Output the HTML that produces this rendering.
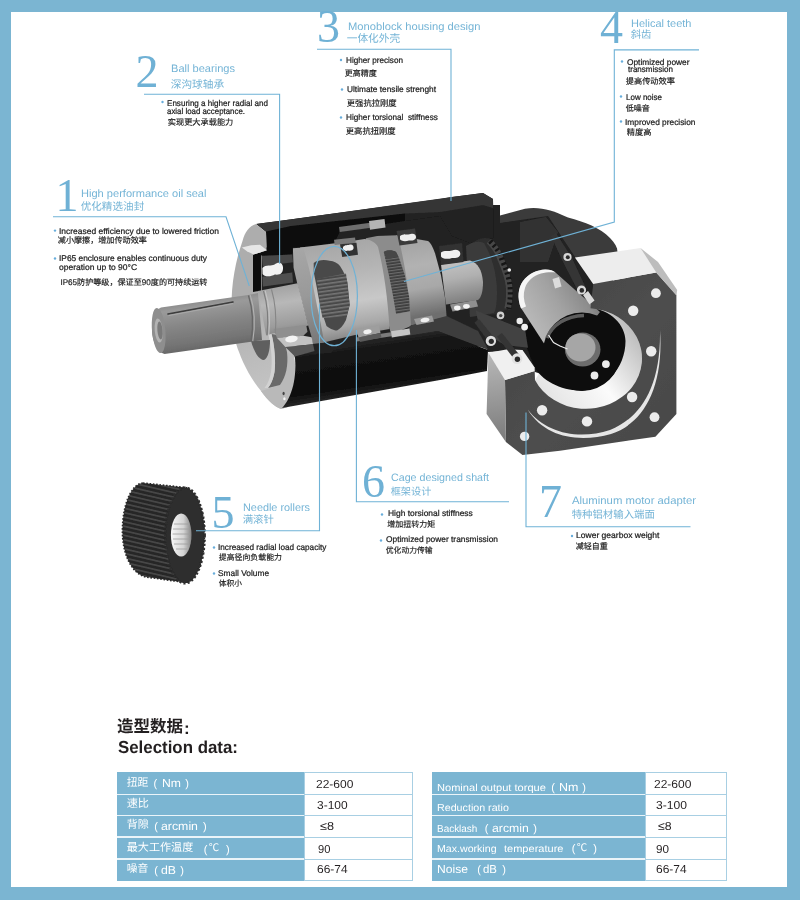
<!DOCTYPE html>
<html lang="zh"><head><meta charset="utf-8"><title>Selection data</title>
<style>
html,body{margin:0;padding:0}
body{width:800px;height:900px;position:relative;overflow:hidden;background:#7bb5d2;font-family:"Liberation Sans",sans-serif}
.page{position:absolute;left:11px;top:12px;width:776px;height:875px;background:#fff}
.ov{position:absolute;left:0;top:0}
.t{position:absolute;white-space:pre;transform-origin:0 0;display:block;text-rendering:geometricPrecision}
.c{position:absolute;white-space:pre;line-height:1;font-family:"Liberation Sans","Noto Sans CJK SC",sans-serif;text-rendering:geometricPrecision}
.ch{color:#74b4d6}
.cb{color:#1c1c1c;-webkit-text-stroke:.18px #1c1c1c}
.cw{color:#fff}
.tb{position:absolute}
</style></head><body>
<div class="page"></div>
<svg class="ov" width="800" height="900" viewBox="0 0 800 900">
<defs>
<linearGradient id="gShaft" gradientUnits="userSpaceOnUse" x1="205" y1="300" x2="212" y2="349">
 <stop offset="0" stop-color="#8c8c8c"/><stop offset=".12" stop-color="#9a9a9a"/><stop offset=".45" stop-color="#868686"/><stop offset=".8" stop-color="#757575"/><stop offset="1" stop-color="#666"/>
</linearGradient>
<linearGradient id="gSeat" gradientUnits="userSpaceOnUse" x1="278" y1="286" x2="286" y2="342">
 <stop offset="0" stop-color="#a2a2a2"/><stop offset=".3" stop-color="#b8b8b8"/><stop offset=".7" stop-color="#9c9c9c"/><stop offset="1" stop-color="#747474"/>
</linearGradient>
<linearGradient id="gFace" gradientUnits="userSpaceOnUse" x1="236" y1="300" x2="275" y2="400">
 <stop offset="0" stop-color="#adadad"/><stop offset=".5" stop-color="#bababa"/><stop offset="1" stop-color="#c6c6c6"/>
</linearGradient>
<linearGradient id="gCar" gradientUnits="userSpaceOnUse" x1="340" y1="240" x2="355" y2="340">
 <stop offset="0" stop-color="#a6a6a6"/><stop offset=".3" stop-color="#b4b4b4"/><stop offset=".62" stop-color="#c8c8c8"/><stop offset=".85" stop-color="#a8a8a8"/><stop offset="1" stop-color="#828282"/>
</linearGradient>
<linearGradient id="gCarF" gradientUnits="userSpaceOnUse" x1="298" y1="250" x2="318" y2="342">
 <stop offset="0" stop-color="#a6a6a6"/><stop offset=".5" stop-color="#999"/><stop offset="1" stop-color="#787878"/>
</linearGradient>
<linearGradient id="gCar2" gradientUnits="userSpaceOnUse" x1="415" y1="238" x2="428" y2="315">
 <stop offset="0" stop-color="#a2a2a2"/><stop offset=".35" stop-color="#b2b2b2"/><stop offset=".65" stop-color="#a8a8a8"/><stop offset="1" stop-color="#6e6e6e"/>
</linearGradient>
<linearGradient id="gPin" gradientUnits="userSpaceOnUse" x1="455" y1="260" x2="463" y2="305">
 <stop offset="0" stop-color="#c4c4c4"/><stop offset=".4" stop-color="#b0b0b0"/><stop offset="1" stop-color="#7a7a7a"/>
</linearGradient>
<linearGradient id="gBlk" gradientUnits="userSpaceOnUse" x1="360" y1="340" x2="368" y2="395">
 <stop offset="0" stop-color="#2c2c2c"/><stop offset=".18" stop-color="#151515"/><stop offset=".8" stop-color="#0c0c0c"/><stop offset="1" stop-color="#262626"/>
</linearGradient>
<linearGradient id="gHollow" gradientUnits="userSpaceOnUse" x1="530" y1="322" x2="588" y2="286">
 <stop offset="0" stop-color="#b8b8b8"/><stop offset=".5" stop-color="#a2a2a2"/><stop offset=".85" stop-color="#8c8c8c"/><stop offset="1" stop-color="#767676"/>
</linearGradient>
<linearGradient id="gBore" gradientUnits="userSpaceOnUse" x1="545" y1="395" x2="640" y2="325">
 <stop offset="0" stop-color="#e4e4e4"/><stop offset=".45" stop-color="#fbfbfb"/><stop offset="1" stop-color="#b4b4b4"/>
</linearGradient>
<linearGradient id="gSide" gradientUnits="userSpaceOnUse" x1="490" y1="360" x2="500" y2="440">
 <stop offset="0" stop-color="#b4b4b4"/><stop offset="1" stop-color="#7c7c7c"/>
</linearGradient>
<linearGradient id="gPlate" gradientUnits="userSpaceOnUse" x1="520" y1="300" x2="670" y2="440">
 <stop offset="0" stop-color="#454545"/><stop offset=".5" stop-color="#4e4e4e"/><stop offset="1" stop-color="#484848"/>
</linearGradient>
<pattern id="teeth" width="4" height="3.7" patternUnits="userSpaceOnUse" patternTransform="rotate(-8)">
 <rect width="4" height="3.7" fill="#4a4a4a"/><rect y="0" width="4" height="1.5" fill="#767676"/>
</pattern>
<pattern id="teeth2" width="4" height="2.9" patternUnits="userSpaceOnUse" patternTransform="rotate(-8)">
 <rect width="4" height="2.9" fill="#3c3c3c"/><rect y="0" width="4" height="1.2" fill="#6c6c6c"/>
</pattern>
<pattern id="ridge" width="10" height="4.4" patternUnits="userSpaceOnUse" patternTransform="rotate(13)">
 <rect width="10" height="4.4" fill="#262626"/><rect y="0" width="10" height="1.7" fill="#474747"/>
</pattern>
<linearGradient id="gHole" gradientUnits="userSpaceOnUse" x1="172" y1="0" x2="191" y2="0">
 <stop offset="0" stop-color="#f4f4f4"/><stop offset=".6" stop-color="#d4d4d4"/><stop offset="1" stop-color="#8a8a8a"/>
</linearGradient>
<filter id="soft" x="-5%" y="-5%" width="110%" height="110%"><feGaussianBlur stdDeviation="0.45"/></filter>
<clipPath id="cBore"><ellipse cx="586" cy="352" rx="55" ry="56"/></clipPath>
</defs>
<g filter="url(#soft)">

<!-- ===== right-angle housing (back) ===== -->
<path d="M492.6 217.5 L525 208.7 C540 206.5 552 210 568 217.6 C585 222 600 228 610 238 C615 243 617.5 247.5 617.5 252 L610 300 L560 345 L500 345 L470 300 L470 230Z" fill="#3b3b3b"/>
<!-- interior -->
<path d="M493 224 L548 216 L575 257 L593 284 L597 297 L600 330 L560 380 L535 372 L522 350 L488 352 L478 331 L470 300Z" fill="#202020"/>
<path d="M520 222 L546 217 L558 232 L548 262 L520 262Z" fill="#333"/>

<!-- ===== interior cavity dark ===== -->
<path d="M262 250 L300 228 L440 205 L500 205 L500 345 L300 360 L262 300Z" fill="#242424"/>

<!-- ===== housing top band + block ===== -->
<path d="M256 224 L290 219.5 L440 199 L452 197 L483 193 L493 199 L493.5 238 L470 243 L452 236 L440 216 L405 221 L340 231 L335 242.5 L305 248 L293.5 247.5 L292 254.5 L261.5 255.5 L261.5 291 L253 292 L253 254.5 L266.5 250.5 L266 232 Z" fill="#0d0d0d"/>
<path d="M405 210 L452 203 L493 199 L493.5 238 L470 243 L452 236 L440 216 L405 221Z" fill="#242424"/>
<path d="M256.5 224 L290 219.5 L452 197 L483 193 L493 199 L493 208 L483 205 L440 212 L405 213.5 L291 226 L266 231.5Z" fill="#363636"/>

<!-- ===== stage 2 ===== -->
<g id="stage2">
 <!-- bevel gear -->
 <path d="M470.7 243.7 C478 238 486 237 490 238.5 C496 244 500 250 502.2 257.7 C507 268 510 276 511 284 C512 295 511 303 509.2 308.5 L497 314 L470 316Z" fill="#2d2d2d"/>
 <path d="M466 246 C474 241 480 241 484 243 C492 256 497 275 497 292 C497 302 496 309 494 313 L470 317Z" fill="#3b3b3b"/>
 <path d="M489 241 C495 247 499 253 501 260 C505.5 270 508 278 509 286 C509.8 296 509 303 507.5 309" fill="none" stroke="#464646" stroke-width="6.5"/>
 <path d="M490 241 C496 247 500 253 502 260 C506.5 270 509 278 510 286 C510.8 296 510 303 508.5 309" fill="none" stroke="#151515" stroke-width="5" stroke-dasharray="2.2 2.9"/>
 <circle cx="509.3" cy="270" r="1.8" fill="#e8e8e8"/>
 <!-- pinion shaft -->
 <path d="M441 264.5 L470 260.5 C478 263 482 270 483 282 C483 292 481 298 478 300 L446 304.5Z" fill="url(#gPin)"/>
 <!-- bearing on pinion -->
 <path d="M439 246 L462 243 L463.5 262 L441 265Z" fill="#303030"/>
 <path d="M441 252.5 C444 250 449 251.5 452 250.5 C456 249 460 250 460.3 253.5 C460.5 257 457 258.5 452 258 C448 259.5 442 259 441 256.5Z" fill="#f0f0f0"/>
 <!-- carrier 2 body -->
 <path d="M396 235.5 L427.9 241.1 C431 243 433 248 435.1 253.4 L440.9 275 L445.3 299.6 L446.7 318.4 L410.6 325.6 L391 334.3Z" fill="url(#gCar2)"/>
 <!-- carrier 2 left face -->
 <path d="M365.8 238.2 L377.3 236 L397.6 235.3 C402 250 410 290 411 326 L391 334.3 L388.9 325.6 L381.7 299.6 L374.5 275 L368.7 253.4Z" fill="#8c8c8c"/>
 <path d="M383.8 251.9 C386 250 392 249.5 396.1 251.9 L399 257.7 L404.8 275 L409.1 296.7 L409.9 311.2 L396.1 314 L393.2 296.7 L388.9 275 L385.3 259.1Z" fill="url(#teeth2)"/>
 <path d="M383.8 251.9 C386 250 392 249.5 396.1 251.9 L398.3 256.5 L386.5 259.5Z" fill="#474747"/>
 <!-- bearing on carrier 2 top -->
 <path d="M396.5 231 L415 228.5 L417.5 243 L399.5 245.5Z" fill="#3a3a3a"/>
 <path d="M400 236 C403 233.5 408 235 410.5 234 C414 233 416 234.5 416 237 C416 240 412 241 409 240.5 C405 242 400.5 241 400 239Z" fill="#ededed"/>
 <!-- lower section face (dark gray) -->
 <path d="M410.6 325.6 L446.7 316 L478 331 L488.5 350 L437.7 331 L400 337Z" fill="#3c3c3c"/>
 <!-- lower bearings -->
 <path d="M414 319 L432 315.5 L434 321.5 L416.5 325Z" fill="#9a9a9a"/>
 <ellipse cx="425" cy="320" rx="4.5" ry="2.2" transform="rotate(-10 425 320)" fill="#f0f0f0"/>
 <path d="M450 304.5 L476 300 L478 306.5 L452.5 311.5Z" fill="#8f8f8f"/>
 <ellipse cx="457.3" cy="308" rx="3.3" ry="2.4" fill="#f4f4f4"/><ellipse cx="466.4" cy="306.3" rx="3.3" ry="2.4" fill="#f4f4f4"/>
</g>

<!-- ===== screws ===== -->
<g id="screws">
 <path d="M339 227 L372 222.5 L372.7 227.5 L339.7 232Z" fill="#6e6e6e"/>
 <path d="M369 221 L384.5 219 L385.5 227.5 L370 229.7Z" fill="#b4b4b4"/>
 <path d="M356 337.5 L396 331.5 L396.6 335.5 L356.6 341.5Z" fill="#7c7c7c"/>
 <path d="M391 331.3 L409.5 328.5 L410.3 334.5 L391.8 337.4Z" fill="#c6c6c6"/>
</g>

<!-- ===== stage 1 carrier ===== -->
<g id="carrier1">
 <path d="M300 247.6 L340 242.7 L364.7 239 C372 240 376 243 378 247 C384 270 388 300 389.5 329 L355 335 L323.5 342.5 L318 343Z" fill="url(#gCar)"/>
 <path d="M292.9 248.3 L303.3 247.6 L308.9 267.8 L313 285.8 L317.2 306.7 L320.7 323.3 L324.2 342.5 L312.5 344 L311.7 337.2 L307.5 323.3 L303.3 306.7 L297.8 285.8 L293.6 267.8Z" fill="url(#gCarF)"/>
 <path d="M313.7 263 C318 259.5 325 259.5 329.5 260.7 C334 261 338 263 340 266 C344 272 346.5 278 347.5 282.5 L349.7 305 L346 320 C343 326 340 329 337 330.5 C333 330.5 329 328 326.5 326 L320.5 308 L316.7 287 L313.7 272Z" fill="#4a4a4a"/>
 <path d="M316.7 279 L346 273.5 L349.7 305 L346.5 317 L322.5 318 L320.5 308Z" fill="url(#teeth)"/>
 <path d="M334 239.7 L355 237.5 L355.7 242.7 L334.7 245Z" fill="#7a7a7a"/>
 <path d="M340 244.2 L356.5 242.7 L358 254.7 L342.2 257Z" fill="#333"/>
 <path d="M343 247 C345 244.5 348 245.5 350 244.5 C352.5 244 354 246 353.5 248.5 C353 250.5 350 251 348 250.5 C346 251.5 343.5 250.5 343 249Z" fill="#f0f0f0"/>
</g>

<!-- ===== flange / pilot boss ===== -->
<g id="flange">
 <path d="M256 224 C249 226 245 232 242.5 241 C236 260 231 282 231.5 310 C232 330 236 345 239 352 C244 366 252 380 261 391 C268 401 275 407 281 409 L288 407 L296 375 L294 355 L300 330 L270 292 L253 292 L253 254.5 L266.5 250.5 L266 232Z" fill="url(#gFace)"/>
 <path d="M241.9 247.5 L251.2 245.2 L260 244.7 L266.9 250.2 L253.7 254.4 L246.9 251.2Z" fill="#e6e6e6"/>
 <path d="M280 385 C286 377 288 365 287 352 L294 356 C296.5 372 294 392 288 407 L281 409 C275 407 268 401 261 391 Z" fill="#b9b9b9"/>
 <path d="M271.5 334 C274.5 345 276 362 274.5 372 C273 380 271 384 268 388 L280 385 C286 377 288.5 365 287 352 L283 336 Z" fill="#696969"/>
 <path d="M268.5 335 C271.5 349 272.5 362 271 372 C269.5 380 267.5 384 264.5 388 L268 388 C271 384 273 380 274.5 372 C276 362 274.5 345 271.5 334Z" fill="#d2d2d2"/>
 <ellipse cx="283.6" cy="393.5" rx="1.1" ry="1.7" fill="#444"/><ellipse cx="284.4" cy="398.8" rx="1.2" ry="1.5" fill="#f4f4f4"/>
</g>

<g id="lb1">
 <path d="M356.5 329.5 L379 325.5 L380.5 333 L358.5 337.5Z" fill="#9e9e9e"/>
 <path d="M358.5 337.5 L380.5 333 L381.5 337.5 L360 342Z" fill="#5a5a5a"/>
 <ellipse cx="367.5" cy="331.8" rx="4.2" ry="2.3" transform="rotate(-10 367.5 331.8)" fill="#f2f2f2"/>
</g>
<!-- ===== black housing, lower half ===== -->
<path d="M294 355 L332 352.5 L333 349.7 L400 338 L437.7 331 L488 350 L487 371 L440 380 L282 408 C290 400 297 382 295 358Z" fill="url(#gBlk)"/>

<!-- ===== bearing seat / inner shaft ===== -->
<g id="seat">
 <path d="M251 341 C254 352 259 360 264 360 C268 358 270 350 270 340Z" fill="#5e5e5e"/>
 <path d="M258 291 L297.6 283.3 L303.6 306.7 L308.3 325.5 L266 335Z" fill="url(#gSeat)"/>
 <!-- upper bearing -->
 <path d="M261.7 256 L292.2 254.6 L293 262.2 L283 263.5 L263 266.5Z" fill="#474747"/>
 <path d="M262.4 276.8 L292.2 272.6 L293 282.4 L263 286.5Z" fill="#505050"/>
 <path d="M262.4 268 C266 264 271 266.5 274.5 264.5 C278 261.5 282.5 262 283 267 C283.5 273 280 275.5 275 274.5 C271 277 264 277 262.6 274Z" fill="#f2f2f2"/>
 <!-- lower bearing -->
 <path d="M273.5 328.9 L306.1 324.7 L307.5 331.7 L303.3 335.8 L277 338Z" fill="#8f8f8f"/>
 <path d="M277 338 L303.3 335.8 L311.7 337.2 L313 344.2 L285.3 347 L280.4 341.4Z" fill="#c2c2c2"/>
 <path d="M285.3 347 L313 344.2 L314.5 351 L295 356.5Z" fill="#565656"/>
 <ellipse cx="291.5" cy="339" rx="6.3" ry="3.4" transform="rotate(-8 291.5 339)" fill="#f4f4f4"/>
</g>

<!-- ===== output shaft ===== -->
<g id="shaft">
 <path d="M161 307.5 L250 294.8 L258 293 L262 340 L254.5 341.3 L164.5 354 C158 352 152 342 152 330 C152 318 156 309 161 307.5Z" fill="url(#gShaft)"/>
 <ellipse cx="158.7" cy="330.5" rx="6.7" ry="22.7" transform="rotate(-5 158.7 330.5)" fill="#8e8e8e"/>
 <ellipse cx="158.7" cy="330.5" rx="4" ry="12" transform="rotate(-5 158.7 330.5)" fill="#b2b2b2"/>
 <ellipse cx="160" cy="330.5" rx="2.6" ry="9" transform="rotate(-5 160 330.5)" fill="#7a7a7a"/>
 <path d="M248.5 295.5 C252.5 308 253.5 326 251 341.5" fill="none" stroke="#666" stroke-width="1.3"/>
 <path d="M250.3 295.2 C254.3 308 255.3 326 252.8 341.2" fill="none" stroke="#b2b2b2" stroke-width="1.1"/>
 <path d="M168 314 L233 302" stroke="#3c3c3c" stroke-width="1.6" fill="none" stroke-linecap="round"/>
 <path d="M168.5 315.6 L233 303.6" stroke="#a9a9a9" stroke-width="1" fill="none"/>
</g>

<g fill="none" stroke-width="1.1">
 <path d="M263.5 291 C267.5 304 268.5 321 267 335.5" stroke="#7c7c7c"/>
 <path d="M265.2 290.7 C269.2 304 270.2 321 268.7 335.2" stroke="#c4c4c4"/>
 <path d="M271.5 289.5 C275.5 303 276.5 319 275.3 333.6" stroke="#868686"/>
</g>
<!-- ===== adapter plate ===== -->
<g id="adapter">
 <!-- bore: black interior + lit wall -->
 <path d="M535 380 A56.2 50.4 0 1 0 590.5 308.2 L560 340Z" fill="url(#gBore)"/>
 <path d="M590.5 308.2 C610 309 625.5 325 625.5 341 C625.5 368 605 390.5 581 390.5 C560 390.5 541 380 534 366 L520 330 L560 300Z" fill="#0c0c0c"/>
 <!-- hollow shaft -->
 <path d="M521 308 C517 298 518 288 523 281 C529 273.5 537 270 545 269.6 C550 269.5 553 270.5 555.5 272.5 L600 312 L570 350 L545 345Z" fill="url(#gHollow)"/>
 <path d="M521 308.5 C517 298 518 288 523 281 C529 273.5 537 270 545 269.6 C550 269.5 553 270.5 555.5 272.5 C550 272 546 272.3 541 273.6 C533 276 527.5 281 525 288 C523 294 523.5 300 526 306.5Z" fill="#f6f6f6"/>
 <!-- clamp ring -->
 <ellipse cx="582" cy="351.7" rx="39" ry="39.3" fill="#0b0b0b"/>
 <path d="M547 338 C552 325 566 316 584 315.5" fill="none" stroke="#6a6a6a" stroke-width="3.5" opacity=".85"/>
 <ellipse cx="582.7" cy="349.6" rx="17.8" ry="17" fill="#6c6c6c"/>
 <ellipse cx="580.5" cy="347.5" rx="15" ry="14" fill="#a6a6a6"/>
 <path d="M548.5 335 L553.5 342.5 L560 346 L567.5 349" fill="none" stroke="#ececec" stroke-width="1.2"/>
 <!-- front face with bore cut out -->
 <path fill-rule="evenodd" d="M593.2 284 L656.2 272.5 L676.4 295 L676.4 414 L655.4 436.7 L560 450.7 L522.5 455 L505.9 442 L505 380 L534.7 371 L535 380 A56.2 50.4 0 1 0 590.5 308.2 Z" fill="url(#gPlate)"/>
 <!-- groove crescent -->
 <path d="M527.7 409.6 C546 434 580 440 610 430 C640 418 661 388 660 330 C664 390 642 424 611 434 C580 443 545 438 527.7 409.6Z" fill="#e6e6e6"/>
 <!-- top-right block -->
 <path d="M574.9 257.6 L640.5 248 L656.2 272.5 L593.2 284Z" fill="#ededed"/>
 <path d="M640.5 248 L658 262 L677.2 290 L676.4 295.5 L656.2 272.5Z" fill="#bdbdbd"/>
 <!-- bottom-left block -->
 <path d="M488.4 352.7 L507.6 349.2 L522.5 350 L534.7 367.6 L534.7 371 L505 380Z" fill="#f0f0f0"/>
 <path d="M488.4 352.7 L505 380 L505.9 442 L486.6 414Z" fill="url(#gSide)"/>
 <!-- holes -->
 <g fill="#ececec">
  <circle cx="655.9" cy="293.2" r="4.9"/><circle cx="633.2" cy="310.7" r="5.2"/><circle cx="651.2" cy="351.2" r="5.2"/>
  <circle cx="632.1" cy="397" r="5.2"/><circle cx="654.5" cy="417.2" r="4.9"/><circle cx="587" cy="421.4" r="5.2"/>
  <circle cx="542.1" cy="410.2" r="5.2"/><circle cx="524.6" cy="436.4" r="4.7"/>
  <circle cx="605.9" cy="364.1" r="3.9"/><circle cx="594.5" cy="375.5" r="3.9"/>
 </g>
</g>

<!-- ===== bolts ===== -->
<g id="bolts">
 <!-- cut face of right-angle housing wall -->
 <path d="M475.7 310.6 L525.2 330 L528 347.7 L504.6 345 L480 330Z" fill="#424242"/>
 <!-- lower-left bolts -->
 <path d="M474.5 322.5 L479 319 L493.5 337 L488 341Z" fill="#353535"/>
 <circle cx="490.9" cy="340.9" r="5.2" fill="#dedede"/><circle cx="491.3" cy="341.3" r="2.6" fill="#2c2c2c"/>
 <path d="M497 336.5 L502 333 L519.5 355 L514 359Z" fill="#353535"/>
 <circle cx="517" cy="358.7" r="5.4" fill="#e2e2e2"/><circle cx="517.4" cy="359.2" r="2.7" fill="#2a2a2a"/>
 <circle cx="500.5" cy="315.4" r="3.8" fill="#cfcfcf"/><circle cx="500.7" cy="315.6" r="1.7" fill="#444"/>
 <circle cx="519.7" cy="321" r="3.2" fill="#ededed"/><circle cx="524.6" cy="327.1" r="3.4" fill="#f0f0f0"/>
 <!-- upper-right bolts -->
 <path d="M551 236 L556 233 L572 258 L585 286 L578 291 L563 262Z" fill="#353535"/>
 <circle cx="567.5" cy="257" r="4.1" fill="#d6d6d6"/><circle cx="567.8" cy="257.3" r="2" fill="#2c2c2c"/>
 <circle cx="581.5" cy="290" r="4.6" fill="#dadada"/><circle cx="581.8" cy="290.4" r="2.3" fill="#2c2c2c"/>
 <path d="M583 295 L588 291 L594.5 300.5 L589.5 304.5Z" fill="#d8d8d8"/>
 <path d="M552.5 279 L559 277 L561.5 286.5 L555 288.5Z" fill="#dcdcdc"/>
</g>

<!-- ===== standalone gear ===== -->
<g id="sgear">
 <path d="M143 483 L185 487.5 C196 489 204.4 509 204.4 535 C204.4 561 196 582 185 582.5 L146 577 C132 574 122.4 555 122.4 531 C122.4 505 131 484 143 483Z" fill="url(#ridge)"/>
 <path d="M143 483 L185 487.5 C196 489 204.4 509 204.4 535 C204.4 561 196 582 185 582.5 L146 577 C132 574 122.4 555 122.4 531 C122.4 505 131 484 143 483Z" fill="none" stroke="#2a2a2a" stroke-width="1.6" stroke-dasharray="1.6 1.7"/>
 <ellipse cx="185" cy="535.5" rx="19.4" ry="47.6" fill="#2d2d2d"/>
 <ellipse cx="185" cy="535.5" rx="19.6" ry="47.8" fill="none" stroke="#2d2d2d" stroke-width="2.6" stroke-dasharray="2.1 2.1"/>
 <ellipse cx="181.2" cy="535" rx="10.3" ry="21.6" fill="url(#gHole)"/>
 <g stroke="#9c9c9c" stroke-width=".8"><path d="M174 524H188M173 529H189M172.6 534H190M173 539H189.5M174 544H188.5M176 549H187"/></g>
</g>

</g>
</svg>

<svg class="ov" width="800" height="900" viewBox="0 0 800 900"><g fill="none" stroke="#6fb2d6" stroke-width="1.1">
<path d="M53 216.7H226L249.3 286"/>
<path d="M144 94.2H279.6V263.7"/>
<path d="M317 49.3H451V201"/>
<path d="M699 49.9H614.3V222L404 281.5"/>
<path d="M196 530.8H319.5V304"/>
<path d="M509 501.8H356.4V330"/>
<path d="M690.5 526.8H526V412.5"/>
<ellipse cx="334.2" cy="296" rx="23.2" ry="49.7" stroke-width="1.2"/>
</g></svg>
<div class="tb" style="left:117.0px;top:771.5px;width:187.0px;height:109.0px;background:#7bb5d2"></div>
<div class="tb" style="left:304.0px;top:771.5px;width:108.5px;height:109.0px;background:#fff;border:1px solid #a8cfe3;box-sizing:border-box"></div>
<div class="tb" style="left:117.0px;top:793.9px;width:187.0px;height:1.2px;background:#eaf4f9"></div>
<div class="tb" style="left:304.0px;top:794.0px;width:108.5px;height:1px;background:#a8cfe3"></div>
<div class="tb" style="left:117.0px;top:814.9px;width:187.0px;height:1.2px;background:#eaf4f9"></div>
<div class="tb" style="left:304.0px;top:815.0px;width:108.5px;height:1px;background:#a8cfe3"></div>
<div class="tb" style="left:117.0px;top:836.4px;width:187.0px;height:1.2px;background:#eaf4f9"></div>
<div class="tb" style="left:304.0px;top:836.5px;width:108.5px;height:1px;background:#a8cfe3"></div>
<div class="tb" style="left:117.0px;top:858.4px;width:187.0px;height:1.2px;background:#eaf4f9"></div>
<div class="tb" style="left:304.0px;top:858.5px;width:108.5px;height:1px;background:#a8cfe3"></div>
<div class="tb" style="left:432.0px;top:771.5px;width:212.5px;height:109.0px;background:#7bb5d2"></div>
<div class="tb" style="left:644.5px;top:771.5px;width:82.5px;height:109.0px;background:#fff;border:1px solid #a8cfe3;box-sizing:border-box"></div>
<div class="tb" style="left:432.0px;top:793.9px;width:212.5px;height:1.2px;background:#eaf4f9"></div>
<div class="tb" style="left:644.5px;top:794.0px;width:82.5px;height:1px;background:#a8cfe3"></div>
<div class="tb" style="left:432.0px;top:814.9px;width:212.5px;height:1.2px;background:#eaf4f9"></div>
<div class="tb" style="left:644.5px;top:815.0px;width:82.5px;height:1px;background:#a8cfe3"></div>
<div class="tb" style="left:432.0px;top:836.4px;width:212.5px;height:1.2px;background:#eaf4f9"></div>
<div class="tb" style="left:644.5px;top:836.5px;width:82.5px;height:1px;background:#a8cfe3"></div>
<div class="tb" style="left:432.0px;top:858.4px;width:212.5px;height:1.2px;background:#eaf4f9"></div>
<div class="tb" style="left:644.5px;top:858.5px;width:82.5px;height:1px;background:#a8cfe3"></div>
<span class="t" style="left:81.00px;top:189.00px;font:normal 10.80px/10.80px 'Liberation Sans',sans-serif;color:#74b4d6;transform:scaleX(1.0248);">High performance oil seal</span>
<span class="c ch" style="left:80.7px;top:201.8px;font-size:10.6px">优化精选油封</span>
<span class="t" style="left:59.40px;top:226.50px;font:normal 8.30px/8.30px 'Liberation Sans',sans-serif;color:#1c1c1c;transform:scaleX(1.0206);-webkit-text-stroke:.22px #1c1c1c;">Increased efficiency due to lowered friction</span>
<span class="c cb" style="left:57.8px;top:236.9px;font-size:8.1px">减小摩擦，增加传动效率</span>
<span class="t" style="left:59.40px;top:254.31px;font:normal 8.30px/8.30px 'Liberation Sans',sans-serif;color:#1c1c1c;transform:scaleX(1.0061);-webkit-text-stroke:.22px #1c1c1c;">IP65 enclosure enables continuous duty</span>
<span class="t" style="left:59.40px;top:263.40px;font:normal 8.30px/8.30px 'Liberation Sans',sans-serif;color:#1c1c1c;transform:scaleX(1.0246);-webkit-text-stroke:.22px #1c1c1c;">operation up to 90°C</span>
<span class="c cb" style="left:60.4px;top:278.9px;font-size:8.1px">IP65防护等级，保证至90度的可持续运转</span>
<span class="t" style="left:171.00px;top:64.31px;font:normal 10.80px/10.80px 'Liberation Sans',sans-serif;color:#74b4d6;transform:scaleX(1.0250);">Ball bearings</span>
<span class="c ch" style="left:170.7px;top:79.8px;font-size:10.7px">深沟球轴承</span>
<span class="t" style="left:167.00px;top:98.50px;font:normal 8.30px/8.30px 'Liberation Sans',sans-serif;color:#1c1c1c;transform:scaleX(0.9728);-webkit-text-stroke:.22px #1c1c1c;">Ensuring a higher radial and</span>
<span class="t" style="left:167.00px;top:106.61px;font:normal 8.30px/8.30px 'Liberation Sans',sans-serif;color:#1c1c1c;transform:scaleX(0.9497);-webkit-text-stroke:.22px #1c1c1c;">axial load acceptance.</span>
<span class="c cb" style="left:167.8px;top:119.4px;font-size:8.2px">实现更大承载能力</span>
<span class="t" style="left:347.50px;top:22.00px;font:normal 10.80px/10.80px 'Liberation Sans',sans-serif;color:#74b4d6;transform:scaleX(1.0361);">Monoblock housing design</span>
<span class="c ch" style="left:346.7px;top:34.3px;font-size:10.7px">一体化外壳</span>
<span class="t" style="left:346.00px;top:55.50px;font:normal 8.30px/8.30px 'Liberation Sans',sans-serif;color:#1c1c1c;transform:scaleX(0.9806);-webkit-text-stroke:.22px #1c1c1c;">Higher precison</span>
<span class="c cb" style="left:344.8px;top:69.5px;font-size:8px">更高精度</span>
<span class="t" style="left:347.00px;top:85.00px;font:normal 8.30px/8.30px 'Liberation Sans',sans-serif;color:#1c1c1c;transform:scaleX(0.9996);-webkit-text-stroke:.22px #1c1c1c;">Ultimate tensile strenght</span>
<span class="c cb" style="left:346.8px;top:99.0px;font-size:8.3px">更强抗拉刚度</span>
<span class="t" style="left:346.00px;top:113.00px;font:normal 8.30px/8.30px 'Liberation Sans',sans-serif;color:#1c1c1c;transform:scaleX(0.9873);-webkit-text-stroke:.22px #1c1c1c;">Higher torsional  stiffness</span>
<span class="c cb" style="left:345.8px;top:126.5px;font-size:8.3px">更高抗扭刚度</span>
<span class="t" style="left:631.00px;top:19.00px;font:normal 10.80px/10.80px 'Liberation Sans',sans-serif;color:#74b4d6;transform:scaleX(1.0180);">Helical teeth</span>
<span class="c ch" style="left:630.7px;top:31.3px;font-size:10.4px">斜齿</span>
<span class="t" style="left:627.00px;top:57.50px;font:normal 8.30px/8.30px 'Liberation Sans',sans-serif;color:#1c1c1c;transform:scaleX(1.0036);-webkit-text-stroke:.22px #1c1c1c;">Optimized power</span>
<span class="t" style="left:627.50px;top:64.81px;font:normal 8.30px/8.30px 'Liberation Sans',sans-serif;color:#1c1c1c;transform:scaleX(0.9660);-webkit-text-stroke:.22px #1c1c1c;">transmission</span>
<span class="c cb" style="left:625.8px;top:78.0px;font-size:8.2px">提高传动效率</span>
<span class="t" style="left:626.00px;top:92.50px;font:normal 8.30px/8.30px 'Liberation Sans',sans-serif;color:#1c1c1c;transform:scaleX(0.9632);-webkit-text-stroke:.22px #1c1c1c;">Low noise</span>
<span class="c cb" style="left:625.8px;top:104.5px;font-size:8px">低噪音</span>
<span class="t" style="left:625.00px;top:117.50px;font:normal 8.30px/8.30px 'Liberation Sans',sans-serif;color:#1c1c1c;transform:scaleX(1.0054);-webkit-text-stroke:.22px #1c1c1c;">Improved precision</span>
<span class="c cb" style="left:626.8px;top:129.0px;font-size:8.2px">精度高</span>
<span class="t" style="left:243.00px;top:503.00px;font:normal 10.80px/10.80px 'Liberation Sans',sans-serif;color:#74b4d6;transform:scaleX(1.0056);">Needle rollers</span>
<span class="c ch" style="left:242.7px;top:516.1px;font-size:10.4px">满滚针</span>
<span class="t" style="left:217.50px;top:543.00px;font:normal 8.30px/8.30px 'Liberation Sans',sans-serif;color:#1c1c1c;transform:scaleX(0.9881);-webkit-text-stroke:.22px #1c1c1c;">Increased radial load capacity</span>
<span class="c cb" style="left:218.8px;top:554.2px;font-size:7.9px">提高径向负载能力</span>
<span class="t" style="left:217.50px;top:569.00px;font:normal 8.30px/8.30px 'Liberation Sans',sans-serif;color:#1c1c1c;transform:scaleX(1.0058);-webkit-text-stroke:.22px #1c1c1c;">Small Volume</span>
<span class="c cb" style="left:218.8px;top:579.9px;font-size:7.7px">体积小</span>
<span class="t" style="left:391.00px;top:472.50px;font:normal 10.80px/10.80px 'Liberation Sans',sans-serif;color:#74b4d6;transform:scaleX(0.9892);">Cage designed shaft</span>
<span class="c ch" style="left:390.7px;top:487.6px;font-size:10.2px">框架设计</span>
<span class="t" style="left:387.50px;top:509.00px;font:normal 8.30px/8.30px 'Liberation Sans',sans-serif;color:#1c1c1c;transform:scaleX(1.0180);-webkit-text-stroke:.22px #1c1c1c;">High torsional stiffness</span>
<span class="c cb" style="left:387.3px;top:521.0px;font-size:8px">增加扭转力矩</span>
<span class="t" style="left:386.00px;top:535.00px;font:normal 8.30px/8.30px 'Liberation Sans',sans-serif;color:#1c1c1c;transform:scaleX(1.0075);-webkit-text-stroke:.22px #1c1c1c;">Optimized power transmission</span>
<span class="c cb" style="left:385.8px;top:547.0px;font-size:7.8px">优化动力传输</span>
<span class="t" style="left:572.00px;top:495.81px;font:normal 10.80px/10.80px 'Liberation Sans',sans-serif;color:#74b4d6;transform:scaleX(1.0486);">Aluminum motor adapter</span>
<span class="c ch" style="left:571.7px;top:511.1px;font-size:10.4px">特种铝材输入端面</span>
<span class="t" style="left:576.00px;top:531.00px;font:normal 8.30px/8.30px 'Liberation Sans',sans-serif;color:#1c1c1c;transform:scaleX(1.0283);-webkit-text-stroke:.22px #1c1c1c;">Lower gearbox weight</span>
<span class="c cb" style="left:575.8px;top:542.5px;font-size:8px">减轻自重</span>
<span class="c" style="left:117.0px;top:718.6px;font-size:16.5px;font-weight:bold;color:#231f20">造型数据</span>
<span class="t" style="left:184.00px;top:720.00px;font:bold 17.00px/17.00px 'Liberation Sans',sans-serif;color:#231f20;transform:scaleX(1.0000);">:</span>
<span class="t" style="left:117.50px;top:738.50px;font:bold 17.40px/17.40px 'Liberation Sans',sans-serif;color:#231f20;transform:scaleX(0.9696);">Selection data:</span>
<span class="c cw" style="left:126.7px;top:777.7px;font-size:10.9px">扭距</span>
<span class="t" style="left:153.50px;top:779.41px;font:normal 11.00px/11.00px 'Liberation Sans',sans-serif;color:#fff;transform:scaleX(1.0000);">(</span>
<span class="t" style="left:161.50px;top:778.20px;font:normal 11.60px/11.60px 'Liberation Sans',sans-serif;color:#fff;transform:scaleX(1.0532);">Nm</span>
<span class="t" style="left:185.30px;top:779.41px;font:normal 11.00px/11.00px 'Liberation Sans',sans-serif;color:#fff;transform:scaleX(1.0000);">)</span>
<span class="c cw" style="left:126.7px;top:799.0px;font-size:11.1px">速比</span>
<span class="c cw" style="left:126.7px;top:820.4px;font-size:11px">背隙</span>
<span class="t" style="left:154.20px;top:822.21px;font:normal 11.00px/11.00px 'Liberation Sans',sans-serif;color:#fff;transform:scaleX(1.0000);">(</span>
<span class="t" style="left:161.00px;top:821.01px;font:normal 11.60px/11.60px 'Liberation Sans',sans-serif;color:#fff;transform:scaleX(1.0630);">arcmin</span>
<span class="t" style="left:203.00px;top:822.21px;font:normal 11.00px/11.00px 'Liberation Sans',sans-serif;color:#fff;transform:scaleX(1.0000);">)</span>
<span class="c cw" style="left:126.7px;top:842.5px;font-size:11.1px">最大工作温度</span>
<span class="t" style="left:203.80px;top:844.60px;font:normal 11.00px/11.00px 'Liberation Sans',sans-serif;color:#fff;transform:scaleX(1.0000);">(</span>
<span class="c cw" style="left:208.8px;top:843.2px;font-size:10.5px">℃</span>
<span class="t" style="left:226.00px;top:844.60px;font:normal 11.00px/11.00px 'Liberation Sans',sans-serif;color:#fff;transform:scaleX(1.0000);">)</span>
<span class="c cw" style="left:126.7px;top:863.9px;font-size:10.8px">噪音</span>
<span class="t" style="left:154.20px;top:865.81px;font:normal 11.00px/11.00px 'Liberation Sans',sans-serif;color:#fff;transform:scaleX(1.0000);">(</span>
<span class="t" style="left:161.00px;top:864.61px;font:normal 11.60px/11.60px 'Liberation Sans',sans-serif;color:#fff;transform:scaleX(1.0572);">dB</span>
<span class="t" style="left:180.30px;top:865.81px;font:normal 11.00px/11.00px 'Liberation Sans',sans-serif;color:#fff;transform:scaleX(1.0000);">)</span>
<span class="t" style="left:437.00px;top:783.61px;font:normal 10.20px/10.20px 'Liberation Sans',sans-serif;color:#fff;transform:scaleX(1.0861);">Nominal output torque</span>
<span class="t" style="left:551.20px;top:782.81px;font:normal 11.00px/11.00px 'Liberation Sans',sans-serif;color:#fff;transform:scaleX(1.0000);">(</span>
<span class="t" style="left:558.60px;top:781.61px;font:normal 11.60px/11.60px 'Liberation Sans',sans-serif;color:#fff;transform:scaleX(1.0754);">Nm</span>
<span class="t" style="left:582.30px;top:782.81px;font:normal 11.00px/11.00px 'Liberation Sans',sans-serif;color:#fff;transform:scaleX(1.0000);">)</span>
<span class="t" style="left:437.00px;top:803.61px;font:normal 10.20px/10.20px 'Liberation Sans',sans-serif;color:#fff;transform:scaleX(1.0495);">Reduction ratio</span>
<span class="t" style="left:437.00px;top:824.61px;font:normal 10.20px/10.20px 'Liberation Sans',sans-serif;color:#fff;transform:scaleX(0.9761);">Backlash</span>
<span class="t" style="left:484.80px;top:823.81px;font:normal 11.00px/11.00px 'Liberation Sans',sans-serif;color:#fff;transform:scaleX(1.0000);">(</span>
<span class="t" style="left:491.60px;top:822.61px;font:normal 11.60px/11.60px 'Liberation Sans',sans-serif;color:#fff;transform:scaleX(1.0573);">arcmin</span>
<span class="t" style="left:533.20px;top:823.81px;font:normal 11.00px/11.00px 'Liberation Sans',sans-serif;color:#fff;transform:scaleX(1.0000);">)</span>
<span class="t" style="left:437.40px;top:845.00px;font:normal 10.20px/10.20px 'Liberation Sans',sans-serif;color:#fff;transform:scaleX(1.0410);">Max.working</span>
<span class="t" style="left:503.50px;top:845.00px;font:normal 10.20px/10.20px 'Liberation Sans',sans-serif;color:#fff;transform:scaleX(1.0819);">temperature</span>
<span class="t" style="left:571.80px;top:844.41px;font:normal 11.00px/11.00px 'Liberation Sans',sans-serif;color:#fff;transform:scaleX(1.0000);">(</span>
<span class="c cw" style="left:576.8px;top:843.0px;font-size:10.5px">℃</span>
<span class="t" style="left:593.30px;top:844.41px;font:normal 11.00px/11.00px 'Liberation Sans',sans-serif;color:#fff;transform:scaleX(1.0000);">)</span>
<span class="t" style="left:437.00px;top:864.00px;font:normal 11.70px/11.70px 'Liberation Sans',sans-serif;color:#fff;transform:scaleX(1.0363);">Noise</span>
<span class="t" style="left:477.20px;top:865.41px;font:normal 11.00px/11.00px 'Liberation Sans',sans-serif;color:#fff;transform:scaleX(1.0000);">(</span>
<span class="t" style="left:483.00px;top:864.01px;font:normal 11.60px/11.60px 'Liberation Sans',sans-serif;color:#fff;transform:scaleX(0.9867);">dB</span>
<span class="t" style="left:502.20px;top:865.41px;font:normal 11.00px/11.00px 'Liberation Sans',sans-serif;color:#fff;transform:scaleX(1.0000);">)</span>
<span class="t" style="left:315.60px;top:778.61px;font:normal 11.60px/11.60px 'Liberation Sans',sans-serif;color:#231f20;transform:scaleX(1.0354);">22-600</span>
<span class="t" style="left:317.40px;top:799.82px;font:normal 11.60px/11.60px 'Liberation Sans',sans-serif;color:#231f20;transform:scaleX(1.0314);">3-100</span>
<span class="t" style="left:319.60px;top:821.20px;font:normal 11.60px/11.60px 'Liberation Sans',sans-serif;color:#231f20;transform:scaleX(1.0922);">≤8</span>
<span class="t" style="left:317.60px;top:843.61px;font:normal 11.60px/11.60px 'Liberation Sans',sans-serif;color:#231f20;transform:scaleX(0.9610);">90</span>
<span class="t" style="left:317.00px;top:864.20px;font:normal 11.60px/11.60px 'Liberation Sans',sans-serif;color:#231f20;transform:scaleX(1.0314);">66-74</span>
<span class="t" style="left:654.00px;top:778.61px;font:normal 11.60px/11.60px 'Liberation Sans',sans-serif;color:#231f20;transform:scaleX(1.0354);">22-600</span>
<span class="t" style="left:656.00px;top:799.82px;font:normal 11.60px/11.60px 'Liberation Sans',sans-serif;color:#231f20;transform:scaleX(1.0449);">3-100</span>
<span class="t" style="left:658.00px;top:821.20px;font:normal 11.60px/11.60px 'Liberation Sans',sans-serif;color:#231f20;transform:scaleX(1.0610);">≤8</span>
<span class="t" style="left:656.00px;top:843.61px;font:normal 11.60px/11.60px 'Liberation Sans',sans-serif;color:#231f20;transform:scaleX(1.0075);">90</span>
<span class="t" style="left:656.00px;top:864.20px;font:normal 11.60px/11.60px 'Liberation Sans',sans-serif;color:#231f20;transform:scaleX(1.0314);">66-74</span>
<svg class="ov" width="800" height="900" viewBox="0 0 800 900">
<g font-family="'Liberation Serif',serif" font-size="46" fill="#6fb1d5">
<text x="55.5" y="211.4">1</text>
<text x="135.5" y="87.2">2</text>
<text x="317" y="42">3</text>
<text x="600" y="43">4</text>
<text x="211.5" y="528">5</text>
<text x="362" y="496.6">6</text>
<text x="539" y="517">7</text>
</g>
<circle cx="55.0" cy="230.6" r="1.2" fill="#68addb"/>
<circle cx="55.0" cy="258.5" r="1.2" fill="#68addb"/>
<circle cx="162.5" cy="102.0" r="1.2" fill="#68addb"/>
<circle cx="341.0" cy="60.0" r="1.2" fill="#68addb"/>
<circle cx="342.0" cy="89.5" r="1.2" fill="#68addb"/>
<circle cx="341.0" cy="117.5" r="1.2" fill="#68addb"/>
<circle cx="622.0" cy="61.5" r="1.2" fill="#68addb"/>
<circle cx="621.0" cy="96.5" r="1.2" fill="#68addb"/>
<circle cx="621.0" cy="121.5" r="1.2" fill="#68addb"/>
<circle cx="214.0" cy="547.5" r="1.2" fill="#68addb"/>
<circle cx="214.0" cy="573.5" r="1.2" fill="#68addb"/>
<circle cx="382.0" cy="514.5" r="1.2" fill="#68addb"/>
<circle cx="381.0" cy="540.5" r="1.2" fill="#68addb"/>
<circle cx="572.0" cy="536.0" r="1.2" fill="#68addb"/>
</svg>
</body></html>
